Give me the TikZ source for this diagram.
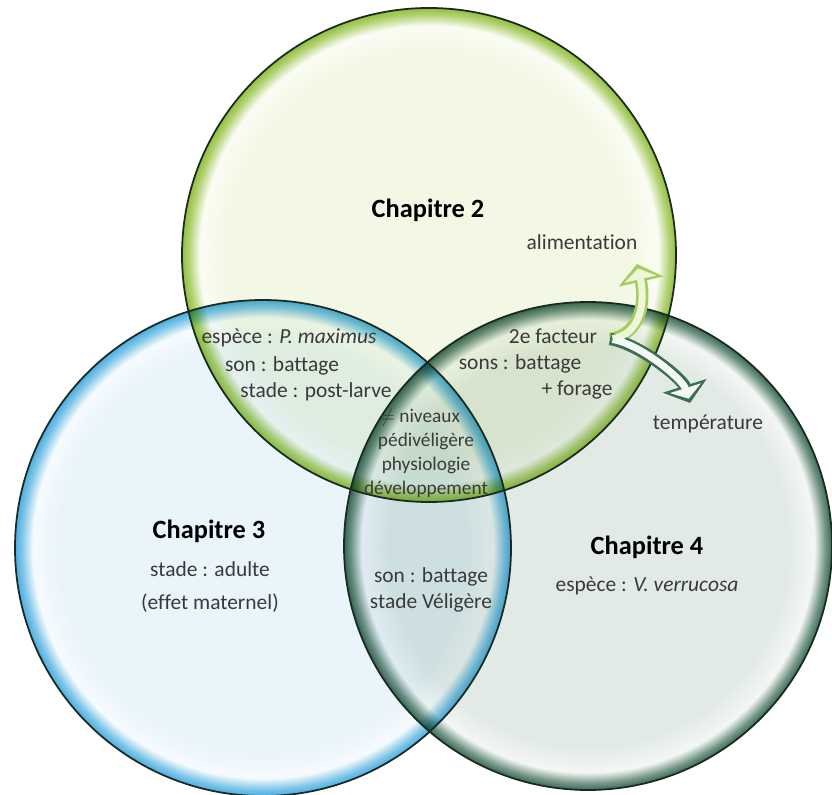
\documentclass[tikz,border=0pt]{standalone}
\usepackage{fontspec}
\setmainfont{Carlito}[Ligatures=NoCommon]
\usepackage{xcolor}
\usetikzlibrary{arrows.meta}
\definecolor{gin}{HTML}{F3F8E4}
\definecolor{gedge}{HTML}{93C03C}
\definecolor{bin}{HTML}{E9F4FB}
\definecolor{bedge}{HTML}{4AAEE0}
\definecolor{din}{HTML}{E2EAE5}
\definecolor{dedge}{HTML}{3B6B55}
\definecolor{edgeline}{HTML}{1A2A22}
\definecolor{txt}{HTML}{3A3A3A}
\definecolor{alimgreen}{HTML}{A6CC5A}
\definecolor{alimfill}{HTML}{EEF6DA}
\definecolor{tempgreen}{HTML}{3D6E55}
\definecolor{tempfill}{HTML}{F4F8F5}
\colorlet{ghi}{gin!40!white}
\colorlet{gmid}{gedge!70!white}
\colorlet{bhi}{bin!40!white}
\colorlet{bmid}{bedge!70!white}
\colorlet{dhi}{din!40!white}
\colorlet{dmid}{dedge!70!white}
\pgfdeclareradialshading{greenball}{\pgfpoint{0bp}{0bp}}{color(0bp)=(gin); color(20.5bp)=(gin); color(23.2bp)=(ghi); color(24.3bp)=(gmid); color(25bp)=(gedge); color(50bp)=(gedge)}
\pgfdeclareradialshading{blueball}{\pgfpoint{0bp}{0bp}}{color(0bp)=(bin); color(20.5bp)=(bin); color(23.2bp)=(bhi); color(24.3bp)=(bmid); color(25bp)=(bedge); color(50bp)=(bedge)}
\pgfdeclareradialshading{darkball}{\pgfpoint{0bp}{0bp}}{color(0bp)=(din); color(20.5bp)=(din); color(23.2bp)=(dhi); color(24.3bp)=(dmid); color(25bp)=(dedge); color(50bp)=(dedge)}

\begin{document}
\begin{tikzpicture}[
  lbl/.style={text=txt,font=\fontsize{12.2}{14}\selectfont,inner sep=0pt},
  mid/.style={text=txt,font=\fontsize{11}{13}\selectfont,inner sep=0pt},
  head/.style={text=black,font=\bfseries\fontsize{15}{17}\selectfont,inner sep=0pt},
  rim/.style={draw=edgeline,line width=1pt},
  outerarr/.style={line width=7pt,-{Triangle[width=0.9cm,length=0.36cm]}},
  innerarr/.style={line width=4pt,shorten >=0.09cm,shorten <=1.5pt,-{Triangle[width=0.64cm,length=0.22cm]}}]
  \useasboundingbox (0,0) rectangle (16.64,15.88);
  \begin{scope}[blend group=multiply]
    \shade[shading=greenball] (8.58,10.78) circle (4.94);
    \shade[shading=blueball] (5.26,4.92) circle (4.96);
    \shade[shading=darkball] (11.76,4.96) circle (4.88);
  \end{scope}
  \draw[rim] (8.58,10.78) circle (4.94);
  \draw[rim] (5.26,4.92) circle (4.96);
  \draw[rim] (11.76,4.96) circle (4.88);

  \node[head] (ch2) at (8.56,11.68) {Chapitre 2};
  \node[lbl] (alim) at (11.64,11.04) {alimentation};
  \node[lbl] (esp) at (5.78,9.12) {espèce : \textit{P. maximus}};
  \node[lbl] (son1) at (5.64,8.56) {son : battage};
  \node[lbl] (stade1) at (6.32,8.04) {stade : post-larve};
  \node[lbl] (fact) at (11.06,9.16) {2e facteur};
  \node[lbl] (sons) at (10.40,8.60) {sons : battage};
  \node[lbl] (forage) at (11.54,8.08) {+ forage};
  \node[lbl] (temp) at (14.16,7.40) {température};
  \node[mid] (niv) at (8.40,7.52) {$\neq$ niveaux};
  \node[mid] (pedi) at (8.52,7.06) {pédivéligère};
  \node[mid] (physio) at (8.52,6.58) {physiologie};
  \node[mid] (dev) at (8.52,6.10) {développement};
  \node[head] (ch3) at (4.18,5.26) {Chapitre 3};
  \node[lbl] (adulte) at (4.20,4.50) {stade : adulte};
  \node[lbl] (effet) at (4.20,3.82) {(effet maternel)};
  \node[lbl] (son2) at (8.62,4.34) {son : battage};
  \node[lbl] (veli) at (8.62,3.82) {stade Véligère};
  \node[head] (ch4) at (12.94,4.94) {Chapitre 4};
  \node[lbl] (vverr) at (12.94,4.16) {espèce : \textit{V. verrucosa}};

  \coordinate (fork) at (12.2,9.1);
  \coordinate (tipA) at (12.74,10.6);
  \coordinate (tipT) at (13.8,7.82);
  \draw[outerarr,alimgreen] (fork) .. controls (12.85,9.2) and (12.9,9.9) .. (tipA);
  \draw[outerarr,tempgreen] (fork) .. controls (12.8,9.0) and (13.65,8.3) .. (tipT);
  \draw[innerarr,alimfill] (fork) .. controls (12.85,9.2) and (12.9,9.9) .. (tipA);
  \draw[innerarr,tempfill] (fork) .. controls (12.8,9.0) and (13.65,8.3) .. (tipT);
\end{tikzpicture}
\end{document}
